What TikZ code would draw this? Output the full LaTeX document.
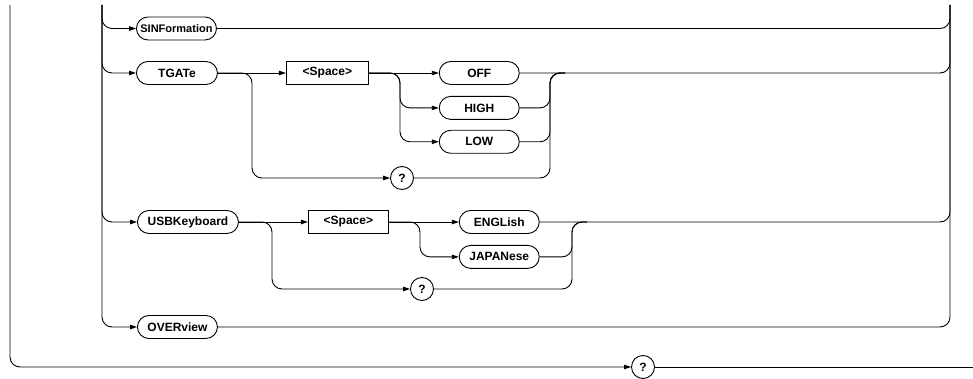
\documentclass[tikz,border=0pt]{standalone}
\usepackage{fontspec}
\setmainfont{Liberation Sans}
\usetikzlibrary{
  arrows.meta,
  positioning
}
\tikzset{
  rail/.style={
    line width=0.9pt,
    rounded corners=10pt
  },
  feed/.style={
    rail,
    -{Triangle[length=7pt,width=4.5pt]}
  },
  keyword/.style={
    draw,
    line width=0.9pt,
    rounded corners=11.5pt,
    minimum width=80pt,
    minimum height=23pt,
    inner xsep=1pt,
    inner ysep=0pt,
    font=\bfseries\fontsize{12}{14}\selectfont
  },
  param/.style={
    draw,
    line width=0.9pt,
    minimum width=80pt,
    minimum height=23pt,
    inner sep=0pt,
    font=\bfseries\fontsize{12}{14}\selectfont
  },
  query/.style={
    draw,
    circle,
    line width=0.9pt,
    minimum size=23pt,
    inner sep=0pt,
    font=\bfseries\fontsize{12}{14}\selectfont
  }
}

\begin{document}
\begin{tikzpicture}[x=1pt, y=-1pt]
    \useasboundingbox (0,0) rectangle (973,379);
    % buses
    \coordinate (otop) at (10,5);
    \coordinate (ltop) at (102,5);
    \coordinate (rtop) at (950,5);
    \coordinate (exit) at (973,367);

    % keywords on the left bus
    \node[keyword, anchor=west, font=\bfseries\fontsize{11}{13}\selectfont]
      (sinf) at (136,28.5) {SINFormation};
    \node[keyword, anchor=west, minimum width=81pt] (tgate) at (136,73) {TGATe};
    \node[keyword, anchor=west, minimum width=101pt] (usbk) at (137,222) {USBKeyboard};
    \node[keyword, anchor=west] (overv) at (137,327) {OVERview};

    % TGATe
    \node[param, minimum width=82pt, right=68pt of tgate] (tspace) {<Space>};
    \node[keyword, right=70pt of tspace] (off) {OFF};
    \node[keyword, below=11pt of off] (high) {HIGH};
    \node[keyword, below=10pt of high] (low) {LOW};
    \node[query] (tq) at (402,178) {?};
    \coordinate (tsplit) at (252,73);
    \coordinate (tfork) at (400,73);
    \coordinate (tbus) at (550,73);
    \coordinate (tjoin) at (565,73);

    % USBKeyboard
    \node[param, right=69pt of usbk] (uspace) {<Space>};
    \node[keyword, right=70pt of uspace] (engl) {ENGLish};
    \node[keyword, below=11pt of engl] (japan) {JAPANese};
    \node[query] (uq) at (422,289) {?};
    \coordinate (usplit) at (272,222);
    \coordinate (ufork) at (420,222);
    \coordinate (ubus) at (572,222);
    \coordinate (ujoin) at (587,222);

    \node[query] (endq) at (643,367) {?};

    % left bus into keywords
    \draw[feed] (ltop) |- (sinf.west);
    \draw[feed] (ltop) |- (tgate.west);
    \draw[feed] (ltop) |- (usbk.west);
    \draw[feed] (ltop) |- (overv.west);

    % TGATe paths
    \draw[feed] (tgate) -- (tspace);
    \draw[feed] (tgate.east) -| (tsplit |- tq) -- (tq.west);
    \draw[feed] (tspace) -- (off);
    \draw[feed] (tspace.east) -| (tfork |- high) -- (high.west);
    \draw[feed] (tspace.east) -| (tfork |- low) -- (low.west);
    \draw[rail] (high.east) -| (tbus) -- (tjoin);
    \draw[rail] (low.east) -| (tbus) -- (tjoin);
    \draw[rail] (tq.east) -| (tbus) -- (tjoin);

    % USBKeyboard paths
    \draw[feed] (usbk) -- (uspace);
    \draw[feed] (usbk.east) -| (usplit |- uq) -- (uq.west);
    \draw[feed] (uspace) -- (engl);
    \draw[feed] (uspace.east) -| (ufork |- japan) -- (japan.west);
    \draw[rail] (japan.east) -| (ubus) -- (ujoin);
    \draw[rail] (uq.east) -| (ubus) -- (ujoin);

    % right bus
    \draw[rail] (sinf.east) -| (rtop);
    \draw[rail] (off.east) -| (rtop);
    \draw[rail] (engl.east) -| (rtop);
    \draw[rail] (overv.east) -| (rtop);

    % outer loop
    \draw[feed] (otop) |- (endq.west);
    \draw[rail] (endq.east) -- (exit);
\end{tikzpicture}
\end{document}
